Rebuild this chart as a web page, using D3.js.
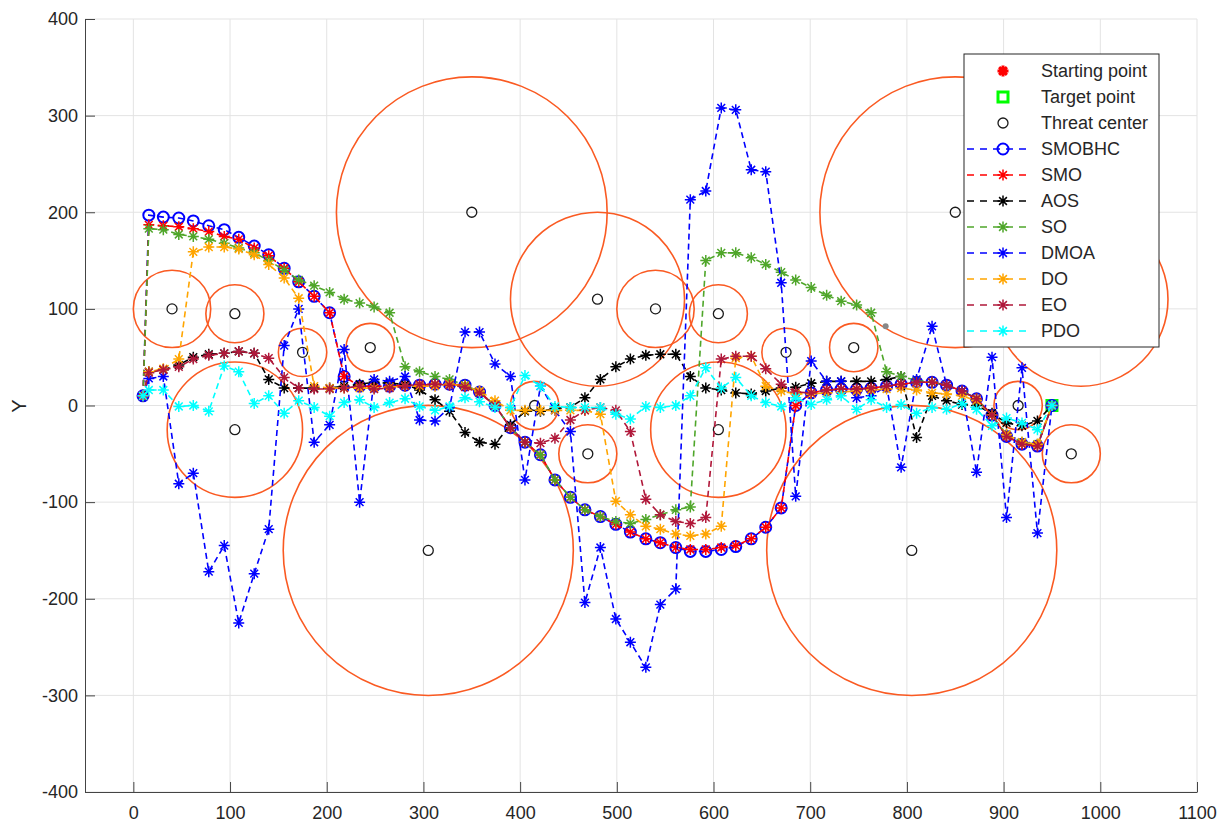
<!DOCTYPE html>
<html>
<head>
<meta charset="utf-8">
<script src="https://d3js.org/d3.v7.min.js"></script>
<style>
  body { margin: 0; background: #fff; }
  svg { font-family: "Liberation Sans", Arial, sans-serif; }
</style>
</head>
<body>
<svg width="1227" height="823"></svg>
<script>
// waypoint x positions shared by every path
var xs = [16,31,47,62,78,94,109,125,140,156, 171,187,203,218,234,249,265,281,296,312,
          327,343,358,374,390,405,421,436,452,467, 483,499,514,530,545,561,576,592,608,623,
          639,654,670,685,701,717,732,748,763,779, 794,810,826,841,857,872,888,903,919,935];

var smobhc = [197,195,194,191,186,182,174,165,156,142, 128,113,96,30,20,20,20,21,21,22,
              22,21,14,0,-23,-38,-51,-77,-95,-108, -115,-123,-131,-138,-142,-147,-151,-151,-149,-146,
              -138,-126,-106,0,13,16,17,17,18,20, 22,24,24,21,15,7,-10,-32,-40,-42];
var smo = [187,186,185,183,180,175,172,163,155,142, 128,113,96,30,20,20,20,21,21,22,
           22,21,14,0,-23,-38,-51,-77,-95,-108, -115,-123,-131,-138,-142,-147,-149,-149,-147,-145,
           -138,-126,-106,0,13,16,17,17,18,20, 22,24,24,21,15,7,-10,-32,-40,-42];
var aos = [35,37,42,50,53,54,56,54,27,18, 18,18,18,20,22,24,23,22,16,6,
           -6,-28,-38,-40,-20,-6,-6,-3,-2,8, 27,40,48,52,53,53,30,18,16,13,
           12,15,18,19,23,25,25,25,25,27, 30,-33,10,5,1,0,-8,-18,-21,-16];
var so = [183,182,177,175,172,168,163,158,150,140, 130,124,117,110,106,102,96,40,35,30,
          27,21,14,0,-23,-38,-51,-77,-95,-108, -115,-120,-122,-118,-113,-108,-105,150,158,158,
          153,146,138,130,122,114,108,104,96,35, 30,26,24,21,15,7,-10,-30,-38,-40];
var dmoa = [28,30,-81,-70,-172,-145,-225,-174,-128,62, 100,-38,-20,58,-100,27,25,30,-15,-16,
            -2,76,76,43,30,-77,20,-5,-27,-204, -147,-221,-245,-271,-206,-190,213,222,308,306,
            244,242,127,-94,46,25,25,8,10,20, -64,27,82,21,15,-69,50,-116,39,-132];
var dO = [35,38,48,159,164,164,162,156,146,132, 111,20,18,18,18,18,19,20,20,20,
          22,20,15,5,-5,-5,-5,-5,-5,-5, -9,-99,-113,-125,-128,-133,-135,-133,-125,49,
          51,20,15,12,12,13,14,15,16,17, 18,16,13,12,10,5,-10,-30,-38,-40];
var eo = [34,37,40,48,52,54,56,54,49,29, 18,17,17,18,20,17,18,20,22,22,
          21,19,13,0,-23,-38,-39,-34,-15,-5, -2,-5,-27,-97,-113,-120,-122,-116,48,51,
          51,38,22,14,13,16,17,17,18,20, 22,24,24,21,15,7,-10,-32,-40,-42];
var pdo = [16,16,-1,0,-6,41,35,2,10,-8, 5,-2,-11,3,6,-2,3,7,-1,-5,
           -1,8,4,-2,-2,31,20,-1,-2,-2, -2,-9,-14,-1,-2,0,10,39,18,29,
           10,3,-1,8,1,6,10,-4,6,-2, 1,-8,-2,-4,2,-4,-21,-13,-18,-25];

var startPt = [10, 10];
var targetPt = [950, 0];

var threatX = [40,105,105,175,245,350,305,415,480,540,470,605,605,675,745,805,850,915,970,980];
var threatY = [100,95,-25,55,60,200,-150,0,110,100,-50,95,-25,55,60,-150,200,0,-50,110];
var threatR = [40,30,70,25,25,140,150,25,90,40,30,30,70,25,25,150,140,25,30,90];

var greyDot = [778, 82];

var names = ["SMOBHC","SMO","AOS","SO","DMOA","DO","EO","PDO"];
var colors = ["#0000ff","#ff0000","#000000","#4fa62a","#0000ff","#ffa500","#b0183a","#00ffff"];
var xTicks = [0,100,200,300,400,500,600,700,800,900,1000,1100];
var yTicks = [-400,-300,-200,-100,0,100,200,300,400];

var svg = d3.select("svg");
var x = d3.scaleLinear().domain([-50, 1100]).range([85, 1197]);
var y = d3.scaleLinear().domain([-400, 400]).range([792, 19]);

function star(s) {
    var d = s * 0.7071;
    return "M" + (-s) + ",0L" + s + ",0M0," + (-s) + "L0," + s +
        "M" + (-d) + "," + (-d) + "L" + d + "," + d + "M" + (-d) + "," + d + "L" + d + "," + (-d);
}

// grid
svg.append("g").selectAll("line").data(xTicks).enter().append("line")
    .attr("x1", d => x(d)).attr("x2", d => x(d)).attr("y1", 19).attr("y2", 792)
    .attr("stroke", "#e3e3e3").attr("stroke-width", 1);
svg.append("g").selectAll("line").data(yTicks).enter().append("line")
    .attr("x1", 85).attr("x2", 1197).attr("y1", d => y(d)).attr("y2", d => y(d))
    .attr("stroke", "#e3e3e3").attr("stroke-width", 1);

svg.append("clipPath").attr("id", "clip").append("rect")
    .attr("x", 85).attr("y", 19).attr("width", 1112).attr("height", 773);

var plot = svg.append("g").attr("clip-path", "url(#clip)");

// threat circles
plot.selectAll(".threat").data(threatX).enter().append("circle")
    .attr("cx", (d, i) => x(threatX[i]))
    .attr("cy", (d, i) => y(threatY[i]))
    .attr("r", (d, i) => x(threatR[i]) - x(0))
    .attr("fill", "none").attr("stroke", "#fa5a22").attr("stroke-width", 1.6);

// starting point, target, threat centers
plot.append("path").attr("d", star(5.5))
    .attr("transform", "translate(" + x(startPt[0]) + "," + y(startPt[1]) + ")")
    .attr("stroke", "#ff0000").attr("stroke-width", 3);
plot.append("rect").attr("x", x(targetPt[0]) - 5).attr("y", y(targetPt[1]) - 5)
    .attr("width", 10).attr("height", 10)
    .attr("fill", "none").attr("stroke", "#00ff00").attr("stroke-width", 3);
plot.selectAll(".center").data(threatX).enter().append("circle")
    .attr("cx", (d, i) => x(threatX[i]))
    .attr("cy", (d, i) => y(threatY[i]))
    .attr("r", 5).attr("fill", "none").attr("stroke", "#1a1a1a").attr("stroke-width", 1.3);

// paths
var allY = [smobhc, smo, aos, so, dmoa, dO, eo, pdo];
var line = d3.line().x(d => x(d[0])).y(d => y(d[1]));

allY.forEach(function(ys, k) {
    var pts = [startPt].concat(xs.map((v, i) => [v, ys[i]])).concat([targetPt]);
    var g = plot.append("g");
    g.append("path").attr("d", line(pts))
        .attr("fill", "none").attr("stroke", colors[k])
        .attr("stroke-width", 1.6).attr("stroke-dasharray", "6,4");
    if (k == 0) {
        g.selectAll("circle").data(pts).enter().append("circle")
            .attr("cx", d => x(d[0])).attr("cy", d => y(d[1])).attr("r", 5.5)
            .attr("fill", "none").attr("stroke", colors[k]).attr("stroke-width", 2);
    } else {
        g.selectAll(".m").data(pts).enter().append("path")
            .attr("d", star(5.5))
            .attr("transform", d => "translate(" + x(d[0]) + "," + y(d[1]) + ")")
            .attr("fill", "none").attr("stroke", colors[k]).attr("stroke-width", 1.5);
    }
});

plot.append("circle").attr("cx", x(greyDot[0])).attr("cy", y(greyDot[1]))
    .attr("r", 3).attr("fill", "#888");

// axes
var fmt = d => String(d);
var xAxis = svg.append("g").attr("transform", "translate(0,792)")
    .call(d3.axisBottom(x).tickValues(xTicks).tickFormat(fmt)
        .tickSizeInner(-10).tickSizeOuter(0).tickPadding(14));
var yAxis = svg.append("g").attr("transform", "translate(85,0)")
    .call(d3.axisLeft(y).tickValues(yTicks).tickFormat(fmt)
        .tickSizeInner(-10).tickSizeOuter(0).tickPadding(7));
[xAxis, yAxis].forEach(function(a) {
    a.selectAll("path, line").attr("stroke", "#444");
    a.selectAll("text").attr("fill", "#262626").style("font-size", "18px")
        .style("font-family", "Liberation Sans, Arial, sans-serif");
});

svg.append("text").attr("transform", "translate(26,406) rotate(-90)")
    .attr("text-anchor", "middle").style("font-size", "20px").attr("fill", "#262626").text("Y");

// legend
var lg = svg.append("g");
lg.append("rect").attr("x", 964).attr("y", 54).attr("width", 195).attr("height", 293)
    .attr("fill", "#fff").attr("stroke", "#262626").attr("stroke-width", 1);
var legendNames = ["Starting point", "Target point", "Threat center"].concat(names);
legendNames.forEach(function(n, i) {
    var ly = 71 + i * 26;
    lg.append("text").attr("x", 1041).attr("y", ly).attr("dy", "0.35em")
        .style("font-size", "18px").attr("fill", "#262626").text(n);
    if (i == 0) {
        lg.append("path").attr("d", star(5.5)).attr("transform", "translate(1003," + ly + ")")
            .attr("stroke", "#ff0000").attr("stroke-width", 3);
    } else if (i == 1) {
        lg.append("rect").attr("x", 998).attr("y", ly - 5).attr("width", 10).attr("height", 10)
            .attr("fill", "none").attr("stroke", "#00ff00").attr("stroke-width", 3);
    } else if (i == 2) {
        lg.append("circle").attr("cx", 1003).attr("cy", ly).attr("r", 5)
            .attr("fill", "none").attr("stroke", "#1a1a1a").attr("stroke-width", 1.3);
    } else {
        var k = i - 3;
        lg.append("line").attr("x1", 967).attr("x2", 1030).attr("y1", ly).attr("y2", ly)
            .attr("stroke", colors[k]).attr("stroke-width", 1.6).attr("stroke-dasharray", "7,6");
        if (k == 0) {
            lg.append("circle").attr("cx", 1003).attr("cy", ly).attr("r", 5.5)
                .attr("fill", "none").attr("stroke", colors[k]).attr("stroke-width", 2);
        } else {
            lg.append("path").attr("d", star(5.5)).attr("transform", "translate(1003," + ly + ")")
                .attr("fill", "none").attr("stroke", colors[k]).attr("stroke-width", 1.5);
        }
    }
});
</script>
</body>
</html>
